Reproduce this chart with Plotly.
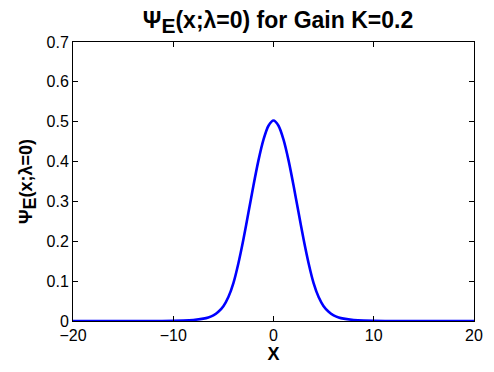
import plotly.graph_objects as go

# Profile of Psi_E(x; lambda=0), read on the positive half and mirrored
x_half = [0.0, 0.5, 1.0, 1.5, 2.0, 2.5, 3.0, 3.5, 4.0, 4.5, 5.0, 5.5, 6.0,
          6.5, 7.0, 8.0, 9.0, 10.0, 12.0, 15.0, 20.0]
psi_half = [0.503, 0.490, 0.455, 0.403, 0.340, 0.272, 0.205, 0.145, 0.095,
            0.060, 0.037, 0.023, 0.014, 0.009, 0.006, 0.0025, 0.001, 0.0004,
            0.0001, 0.0, 0.0]

x_vals = [-v for v in x_half[:0:-1]] + x_half
psi_vals = psi_half[:0:-1] + psi_half

x_ticks = [-20, -10, 0, 10, 20]
y_ticks = [0, 0.1, 0.2, 0.3, 0.4, 0.5, 0.6, 0.7]

font_family = "Liberation Sans, Arial, Helvetica, sans-serif"

fig = go.Figure()
fig.add_trace(go.Scatter(
    x=x_vals, y=psi_vals, mode="lines",
    line=dict(color="#0000FF", width=2.6, shape="spline", smoothing=0.8),
    showlegend=False,
))

axis_common = dict(
    showline=True, linecolor="black", linewidth=1, mirror="ticks",
    ticks="inside", ticklen=5, tickcolor="black", tickwidth=1,
    showgrid=False, zeroline=False,
    tickfont=dict(family=font_family, size=16, color="black"),
)

fig.update_layout(
    width=494, height=372,
    margin=dict(l=73, r=11, t=42, b=49),
    paper_bgcolor="white", plot_bgcolor="white",
    font=dict(family=font_family, color="black"),
    title=dict(
        text="<b>Ψ<sub><span style='font-size:21px'>E</span></sub>(x;λ=0) for Gain K=0.2</b>",
        x=(73 + 483) / 2 / 494, xanchor="center",
        y=1 - 20 / 372, yanchor="middle",
        font=dict(family=font_family, size=23, color="black"),
    ),
    xaxis=dict(
        range=[-20, 20], tickvals=x_ticks,
        title=dict(text="<b>X</b>", font=dict(family=font_family, size=18), standoff=4),
        **axis_common,
    ),
    yaxis=dict(
        range=[0, 0.7], tickvals=y_ticks,
        ticktext=[("%g" % v) for v in y_ticks],
        title=dict(text="<b>Ψ<sub><span style='font-size:18px'>E</span></sub>(x;λ=0)</b>",
                   font=dict(family=font_family, size=18), standoff=9),
        **axis_common,
    ),
)

fig.write_html("out.html")
